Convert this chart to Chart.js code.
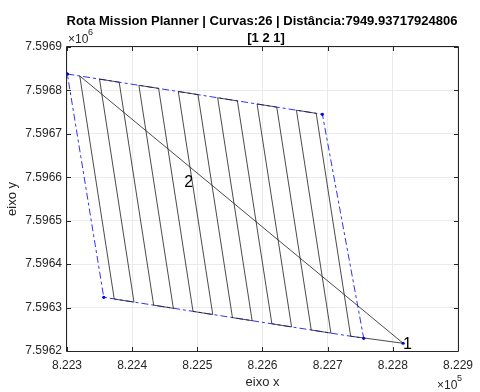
<!DOCTYPE html>
<html>
<head>
<meta charset="utf-8">
<script src="https://cdn.jsdelivr.net/npm/chart.js@4/dist/chart.umd.min.js"></script>
<style>
  html, body { margin: 0; padding: 0; background: #ffffff; }
  canvas { display: block; }
</style>
</head>
<body>
<canvas id="c" width="480" height="392"></canvas>
<script>
// Survey area boundary (closed polygon), UTM metres
const areaX = [822300.5, 822691.9, 822755.3, 822356.4, 822300.5];
const areaY = [7596837.8, 7596745.0, 7596229.3, 7596323.7, 7596837.8];

// Home / launch position
const homeX = [822815.8];
const homeY = [7596217.8];

// Flight route: home -> 13 parallel sweeps -> home
const routeX = [
  822815.8,
  822319.6, 822372.5, 822402.8, 822349.9,
  822380.1, 822433.0, 822463.2, 822410.3,
  822440.6, 822493.4, 822523.7, 822470.8,
  822501.0, 822553.9, 822584.1, 822531.2,
  822561.5, 822614.4, 822644.6, 822591.7,
  822621.9, 822674.8, 822705.0, 822652.1,
  822682.4, 822735.3,
  822815.8
];
const routeY = [
  7596217.8,
  7596833.2, 7596319.7, 7596312.6, 7596826.1,
  7596818.9, 7596305.5, 7596298.3, 7596811.8,
  7596804.7, 7596291.2, 7596284.0, 7596797.5,
  7596790.4, 7596276.9, 7596269.8, 7596783.0,
  7596775.9, 7596262.6, 7596255.5, 7596768.8,
  7596761.6, 7596248.4, 7596241.2, 7596754.5,
  7596747.3, 7596234.1,
  7596217.8
];

// Marker labels placed on the map
const markX = [822815.8, 822479.8];
const markY = [7596217.8, 7596589.1];
const markText = ['1', '2'];

// Axis ticks
const xTickValues = [822300, 822400, 822500, 822600, 822700, 822800, 822900];
const xTickLabels = ['8.223', '8.224', '8.225', '8.226', '8.227', '8.228', '8.229'];
const yTickValues = [7596200, 7596300, 7596400, 7596500, 7596600, 7596700, 7596800, 7596900];
const yTickLabels = ['7.5962', '7.5963', '7.5964', '7.5965', '7.5966', '7.5967', '7.5968', '7.5969'];

const titleLines = ['Rota Mission Planner | Curvas:26 | Distância:7949.93717924806', '[1 2 1]'];

const FONT = "'Liberation Sans', Arial, Helvetica, sans-serif";
const AXC = '#262626';

const toPts = (xs, ys) => xs.map((x, i) => ({ x: x, y: ys[i] }));

const decorations = {
  id: 'decorations',
  afterDatasetsDraw(chart) {
    const ctx = chart.ctx;
    const a = chart.chartArea;
    const xs = chart.scales.x, ys = chart.scales.y;
    ctx.save();

    // marker labels
    ctx.fillStyle = '#000000';
    ctx.font = '16px ' + FONT;
    ctx.textAlign = 'left';
    ctx.textBaseline = 'middle';
    markText.forEach((t, i) => {
      ctx.fillText(t, xs.getPixelForValue(markX[i]), ys.getPixelForValue(markY[i]) + 1);
    });

    // axes box
    ctx.strokeStyle = AXC;
    ctx.lineWidth = 1;
    ctx.beginPath();
    ctx.rect(Math.round(a.left) - 0.5, Math.round(a.top) - 0.5,
             Math.round(a.right - a.left) + 1, Math.round(a.bottom - a.top) + 1);
    ctx.stroke();

    // inward tick marks on all four sides
    const tl = 4;
    ctx.beginPath();
    xTickValues.forEach(v => {
      const p = Math.round(xs.getPixelForValue(v)) + 0.5;
      ctx.moveTo(p, a.bottom); ctx.lineTo(p, a.bottom - tl);
      ctx.moveTo(p, a.top); ctx.lineTo(p, a.top + tl);
    });
    yTickValues.forEach(v => {
      const p = Math.round(ys.getPixelForValue(v)) + 0.5;
      ctx.moveTo(a.left, p); ctx.lineTo(a.left + tl, p);
      ctx.moveTo(a.right, p); ctx.lineTo(a.right - tl, p);
    });
    ctx.stroke();

    // exponent notes
    ctx.fillStyle = AXC;
    ctx.textAlign = 'left';
    ctx.textBaseline = 'alphabetic';
    ctx.font = '12px ' + FONT;
    ctx.fillText('\u00d710', a.left + 1, 43);
    ctx.font = '9px ' + FONT;
    ctx.fillText('6', a.left + 21, 35);
    ctx.font = '12px ' + FONT;
    ctx.fillText('\u00d710', 437, 389);
    ctx.font = '9px ' + FONT;
    ctx.fillText('5', 457, 381);

    // axis titles
    ctx.font = '13px ' + FONT;
    ctx.textAlign = 'center';
    ctx.fillText('eixo x', (a.left + a.right) / 2, 386);
    ctx.save();
    ctx.translate(16, (a.top + a.bottom) / 2);
    ctx.rotate(-Math.PI / 2);
    ctx.fillText('eixo y', 0, 0);
    ctx.restore();

    // title
    ctx.fillStyle = '#000000';
    ctx.font = 'bold 13px ' + FONT;
    ctx.textAlign = 'center';
    ctx.fillText(titleLines[0], 262, 25);
    ctx.fillText(titleLines[1], 266, 42);

    ctx.restore();
  }
};

new Chart(document.getElementById('c'), {
  type: 'scatter',
  data: {
    datasets: [
      {
        label: 'rota',
        data: toPts(routeX, routeY),
        showLine: true,
        borderColor: 'rgba(30,30,30,0.8)',
        borderWidth: 1,
        pointRadius: 0,
        fill: false
      },
      {
        label: 'area',
        data: toPts(areaX, areaY),
        showLine: true,
        borderColor: '#3030ff',
        borderWidth: 1,
        borderDash: [7, 3, 3, 3],
        pointRadius: 1.6,
        pointBackgroundColor: '#0000ff',
        pointBorderWidth: 0,
        fill: false
      },
      {
        label: 'home',
        data: toPts(homeX, homeY),
        showLine: false,
        pointRadius: 1.6,
        pointBackgroundColor: '#0000ff',
        pointBorderWidth: 0
      }
    ]
  },
  options: {
    responsive: false,
    devicePixelRatio: 1,
    animation: false,
    layout: { padding: { left: 0, right: 16, top: 47, bottom: 0 } },
    plugins: { legend: { display: false }, tooltip: { enabled: false }, title: { display: false } },
    scales: {
      x: {
        type: 'linear',
        min: xTickValues[0],
        max: xTickValues[xTickValues.length - 1],
        afterBuildTicks: s => { s.ticks = xTickValues.map(v => ({ value: v })); },
        afterFit: s => { s.height = 41; },
        grid: { color: '#ebebeb', drawTicks: false },
        border: { display: false },
        ticks: {
          padding: 7,
          color: AXC,
          font: { family: FONT, size: 12 },
          maxRotation: 0,
          callback: (v) => xTickLabels[xTickValues.indexOf(v)]
        }
      },
      y: {
        type: 'linear',
        min: yTickValues[0],
        max: yTickValues[yTickValues.length - 1],
        afterBuildTicks: s => { s.ticks = yTickValues.map(v => ({ value: v })); },
        afterFit: s => { s.width = 67; },
        grid: { color: '#ebebeb', drawTicks: false },
        border: { display: false },
        ticks: {
          padding: 5,
          color: AXC,
          font: { family: FONT, size: 12 },
          callback: (v) => yTickLabels[yTickValues.indexOf(v)]
        }
      }
    }
  },
  plugins: [decorations]
});
</script>
</body>
</html>
